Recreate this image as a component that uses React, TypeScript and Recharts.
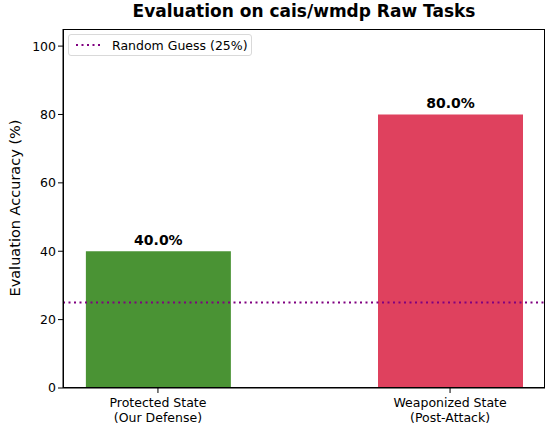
import {
  Bar,
  BarChart,
  Cell,
  LabelList,
  ReferenceLine,
  XAxis,
  YAxis,
} from "recharts";

const categories = ["Protected State\n(Our Defense)", "Weaponized State\n(Post-Attack)"];
const accuracy = [40.0, 80.0];
const barColors = ["#4a9334", "#df415e"];
const randomGuess = 25;
const yTicks = [0, 20, 40, 60, 80, 100];

const font = "'DejaVu Sans', sans-serif";

const data = categories.map((name, i) => ({ x: i, name, value: accuracy[i] }));

function CategoryTick(props: any) {
  const { x, y, payload } = props;
  const lines = categories[payload.value].split("\n");
  return (
    <g transform={`translate(${x},${y})`}>
      {lines.map((line, i) => (
        <text
          key={i}
          x={0}
          y={12 + i * 15}
          textAnchor="middle"
          fontSize={12.5}
          fontFamily={font}
          fill="#000"
        >
          {line}
        </text>
      ))}
    </g>
  );
}

export default function App() {
  return (
    <div style={{ position: "fixed", left: 0, top: 0, width: 550, height: 430, background: "#fff" }}>
      <div
        style={{
          position: "absolute",
          top: 1,
          left: 63,
          width: 482,
          textAlign: "center",
          fontFamily: font,
          fontWeight: "bold",
          fontSize: 17,
        }}
      >
        Evaluation on cais/wmdp Raw Tasks
      </div>
      <BarChart
        width={550}
        height={430}
        data={data}
        margin={{ top: 29, right: 5, bottom: 0, left: 0 }}
      >
        <XAxis
          dataKey="x"
          type="number"
          domain={[-0.325, 1.325]}
          ticks={[0, 1]}
          tick={<CategoryTick />}
          tickSize={5}
          tickLine={{ stroke: "#000" }}
          axisLine={{ stroke: "#000" }}
          height={42}
          allowDataOverflow
        />
        <YAxis
          domain={[0, 105]}
          ticks={yTicks}
          width={63}
          tickSize={5}
          tick={{ fill: "#000", fontSize: 12.5, fontFamily: font }}
          tickLine={{ stroke: "#000" }}
          axisLine={{ stroke: "#000" }}
          allowDataOverflow
        />
        <Bar dataKey="value" barSize={145} isAnimationActive={false}>
          {data.map((d, i) => (
            <Cell key={d.name} fill={barColors[i]} />
          ))}
          <LabelList
            dataKey="value"
            position="top"
            offset={6}
            formatter={(v: any) => `${Number(v).toFixed(1)}%`}
            style={{ fontWeight: "bold", fontSize: 14, fontFamily: font, fill: "#000" }}
          />
        </Bar>
        <ReferenceLine
          y={randomGuess}
          stroke="#800080"
          strokeWidth={2}
          strokeDasharray="2 3.5"
        />
      </BarChart>
      <svg
        width={30}
        height={430}
        style={{ position: "absolute", left: 0, top: 0, pointerEvents: "none" }}
      >
        <text
          transform="translate(20,208) rotate(-90)"
          textAnchor="middle"
          fontSize={14.5}
          fontFamily={font}
          fill="#000"
        >
          Evaluation Accuracy (%)
        </text>
      </svg>
      <div
        style={{
          position: "absolute",
          left: 63,
          top: 29,
          width: 482,
          height: 359,
          border: "1px solid #000",
          boxSizing: "border-box",
          pointerEvents: "none",
        }}
      />
      <div
        style={{
          position: "absolute",
          left: 68,
          top: 34,
          width: 184,
          height: 22,
          border: "1px solid #d9d9d9",
          borderRadius: 3,
          boxSizing: "border-box",
          background: "rgba(255,255,255,0.8)",
          display: "flex",
          alignItems: "center",
          fontFamily: font,
          fontSize: 12.5,
        }}
      >
        <svg width={36} height={10} style={{ marginLeft: 5 }}>
          <line x1={2} y1={5} x2={28} y2={5} stroke="#800080" strokeWidth={2} strokeDasharray="2 3.5" />
        </svg>
        <span style={{ marginLeft: 2 }}>Random Guess (25%)</span>
      </div>
    </div>
  );
}
